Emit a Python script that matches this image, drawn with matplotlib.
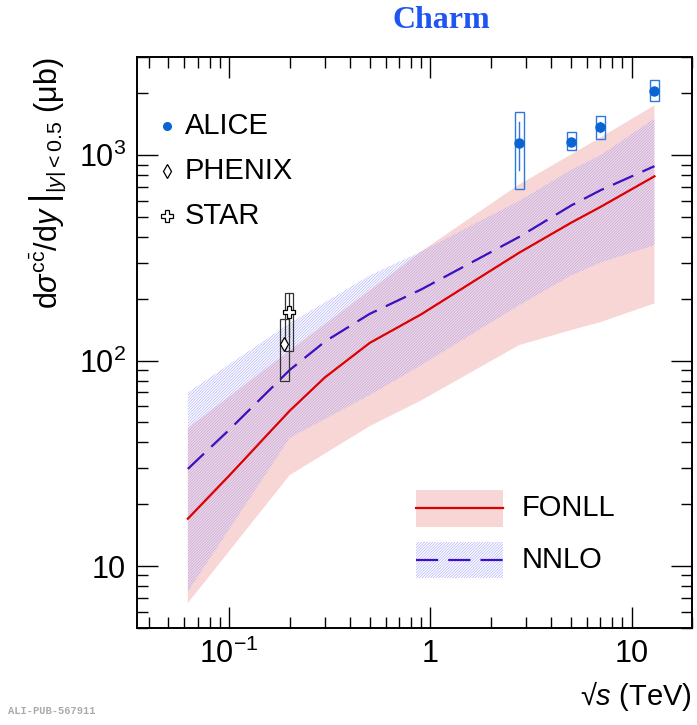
import matplotlib
matplotlib.use("Agg")
import matplotlib.pyplot as plt
from matplotlib.patches import Rectangle

plt.rcParams['font.family'] = ['Liberation Sans', 'DejaVu Sans']
plt.rcParams['mathtext.fontset'] = 'custom'
plt.rcParams['mathtext.rm'] = 'Liberation Sans'
plt.rcParams['mathtext.it'] = 'Liberation Sans:italic'
plt.rcParams['mathtext.bf'] = 'Liberation Sans:bold'
plt.rcParams['hatch.linewidth'] = 0.4

# theory bands (sqrt(s) in TeV, cross section in mub)
energies = [0.0624, 0.2, 0.5, 0.9, 2.76, 5.02, 7.0, 13.0]
fonll_lo = [6.6, 27.7, 48, 64, 119, 141, 154, 190]
fonll_hi = [47, 112, 220, 340, 720, 1010, 1220, 1750]
nnlo_lo = [7.5, 42, 68, 95, 186, 260, 300, 365]
nnlo_hi = [70, 152, 260, 340, 600, 850, 1000, 1510]

# central curves
curve_x = [0.0624, 0.1, 0.2, 0.3, 0.5, 0.9, 2.76, 5.02, 7.0, 13.0]
fonll_c = [17, 27.5, 57, 83, 122, 168, 335, 470, 560, 790]
nnlo_c = [29.7, 46, 90, 124, 169, 222, 400, 570, 675, 885]

# ALICE
alice_x = [2.76, 5.02, 7.0, 13.0]
alice_y = [1144, 1157, 1369, 2049]
alice_stat = [300, 25, 75, 40]
alice_sys_lo = [683, 1058, 1196, 1831]
alice_sys_hi = [1620, 1294, 1548, 2319]

# RHIC
phenix_x, phenix_y = 0.188, 120
phenix_sys = (80, 159)
star_x, star_y = 0.199, 172
star_stat = 40
star_sys = (111, 213)

band_red = '#f8d6d6'
hatch_blue = '#a4a4ff'

fig = plt.figure(figsize=(6.97, 7.25), dpi=100)
ax = fig.add_axes([0.197, 0.134, 0.796, 0.787])

ax.fill_between(energies, fonll_lo, fonll_hi, facecolor=band_red, edgecolor='none', zorder=1)
ax.fill_between(energies, nnlo_lo, nnlo_hi, facecolor='none', edgecolor=hatch_blue,
                hatch='////////////', linewidth=0, zorder=2)
ax.plot(curve_x, fonll_c, color='#dd0000', lw=1.6, zorder=3)
ax.plot(curve_x, nnlo_c, color='#3a10c0', lw=1.6, dashes=(10, 4.5), zorder=3)

# ALICE data with syst boxes
for x, y, s, lo, hi in zip(alice_x, alice_y, alice_stat, alice_sys_lo, alice_sys_hi):
    ax.add_patch(Rectangle((x / 1.053, lo), x * 1.053 - x / 1.053, hi - lo,
                           fill=False, edgecolor='#2a78e0', lw=1.0, zorder=4))
    ax.plot([x, x], [y - s, y + s], color='#2a78e0', lw=1.0, zorder=4)
ax.plot(alice_x, alice_y, 'o', color='#0a64d4', ms=6.5, zorder=5)

# PHENIX / STAR
ax.add_patch(Rectangle((phenix_x / 1.055, phenix_sys[0]), phenix_x * 1.055 - phenix_x / 1.055,
                       phenix_sys[1] - phenix_sys[0], fill=False, edgecolor='#333333', lw=0.9, zorder=4))
ax.plot(phenix_x, phenix_y, 'd', mfc='white', mec='black', ms=7, mew=0.9, zorder=5)
ax.add_patch(Rectangle((star_x / 1.05, star_sys[0]), star_x * 1.05 - star_x / 1.05,
                       star_sys[1] - star_sys[0], fill=False, edgecolor='#333333', lw=0.9, zorder=4))
ax.plot([star_x, star_x], [star_y - star_stat, star_y + star_stat], color='#333333', lw=0.9, zorder=4)
ax.plot(star_x, star_y, 'P', mfc='white', mec='black', ms=8, mew=0.9, zorder=5)

ax.set_xscale('log')
ax.set_yscale('log')
ax.set_xlim(0.035, 20)
ax.set_ylim(5, 3000)
ax.set_xticks([0.1, 1, 10], [r'$10^{-1}$', '1', '10'])
ax.set_yticks([10, 100, 1000], ['10', r'$10^{2}$', r'$10^{3}$'])
ax.tick_params(which='both', direction='in', top=True, right=True, labelsize=22, width=1.0)
ax.tick_params(which='major', length=15, pad=8)
ax.tick_params(which='minor', length=8)
for sp in ax.spines.values():
    sp.set_linewidth(1.4)

ax.set_ylabel(r'$\left.\mathrm{d}\sigma^{\mathrm{c\bar{c}}}/\mathrm{d}y\;\right|_{|y|<0.5}$ (μb)',
              fontsize=22, loc='top', labelpad=8)
ax.set_xlabel(r'√$s$ (TeV)', fontsize=21, loc='right', labelpad=6)

# upper legend
leg_y = [0.880, 0.801, 0.722]
ax.plot(0.053, leg_y[0], 'o', color='#0a64d4', ms=5.5, transform=ax.transAxes)
ax.plot(0.053, leg_y[1], 'd', mfc='white', mec='black', ms=7, mew=0.9, transform=ax.transAxes)
ax.plot(0.053, leg_y[2], 'P', mfc='white', mec='black', ms=8, mew=0.9, transform=ax.transAxes)
for yy, name in zip(leg_y, ['ALICE', 'PHENIX', 'STAR']):
    ax.text(0.085, yy, name, transform=ax.transAxes, fontsize=21, va='center', ha='left')

# lower legend
ax.add_patch(Rectangle((0.502, 0.177), 0.157, 0.065, transform=ax.transAxes,
                       facecolor=band_red, edgecolor='none'))
ax.plot([0.502, 0.659], [0.210, 0.210], color='#dd0000', lw=1.6, transform=ax.transAxes)
ax.add_patch(Rectangle((0.502, 0.088), 0.157, 0.063, transform=ax.transAxes,
                       facecolor='none', edgecolor=hatch_blue, hatch='////////////', linewidth=0))
ax.plot([0.502, 0.659], [0.119, 0.119], color='#3a10c0', lw=1.6, dashes=(10, 4.5),
        transform=ax.transAxes)
ax.text(0.693, 0.210, 'FONLL', transform=ax.transAxes, fontsize=21, va='center')
ax.text(0.693, 0.119, 'NNLO', transform=ax.transAxes, fontsize=21, va='center')

fig.text(0.633, 0.972, 'Charm', color='#1f55f0', fontsize=23, fontweight='bold',
         family='Liberation Serif', ha='center', va='center')
fig.text(0.012, 0.012, 'ALI-PUB-567911', color='#aaaaaa', fontsize=7.5, fontweight='bold',
         family='Liberation Mono', ha='left', va='bottom')

fig.savefig('out.png', dpi=100)
